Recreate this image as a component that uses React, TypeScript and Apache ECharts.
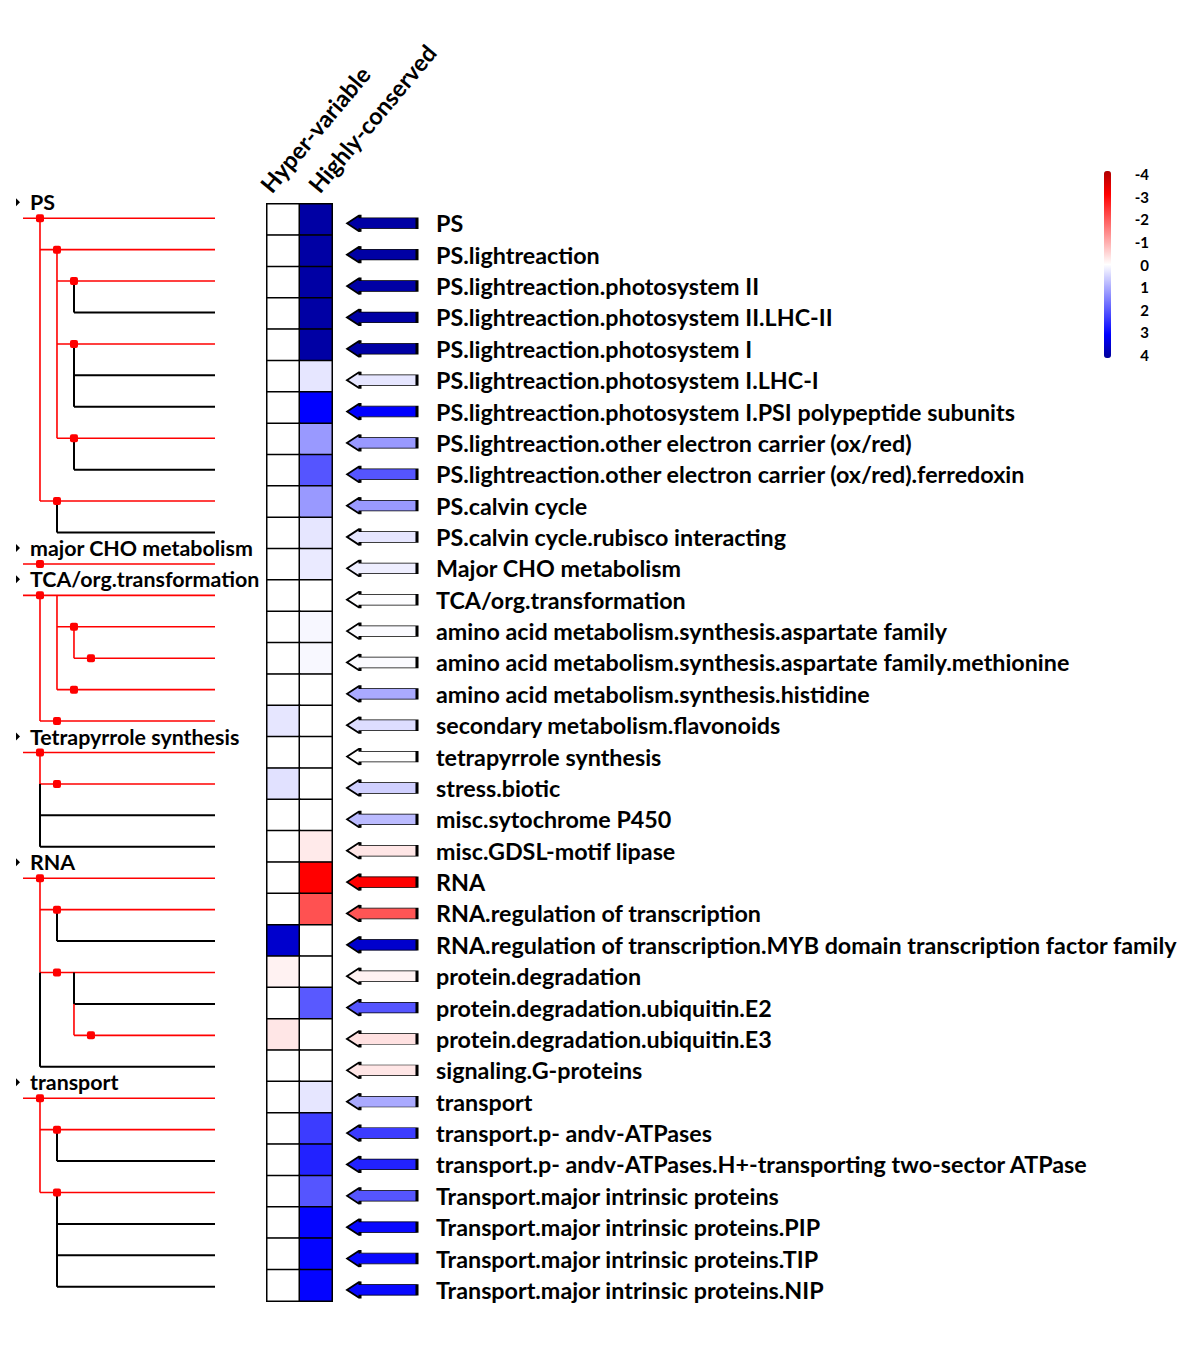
import React, { useEffect, useRef } from "react";
import * as echarts from "echarts";

const rowLabels = [
  "PS",
  "PS.lightreaction",
  "PS.lightreaction.photosystem II",
  "PS.lightreaction.photosystem II.LHC-II",
  "PS.lightreaction.photosystem I",
  "PS.lightreaction.photosystem I.LHC-I",
  "PS.lightreaction.photosystem I.PSI polypeptide subunits",
  "PS.lightreaction.other electron carrier (ox/red)",
  "PS.lightreaction.other electron carrier (ox/red).ferredoxin",
  "PS.calvin cycle",
  "PS.calvin cycle.rubisco interacting",
  "Major CHO metabolism",
  "TCA/org.transformation",
  "amino acid metabolism.synthesis.aspartate family",
  "amino acid metabolism.synthesis.aspartate family.methionine",
  "amino acid metabolism.synthesis.histidine",
  "secondary metabolism.flavonoids",
  "tetrapyrrole synthesis",
  "stress.biotic",
  "misc.sytochrome P450",
  "misc.GDSL-motif lipase",
  "RNA",
  "RNA.regulation of transcription",
  "RNA.regulation of transcription.MYB domain transcription factor family",
  "protein.degradation",
  "protein.degradation.ubiquitin.E2",
  "protein.degradation.ubiquitin.E3",
  "signaling.G-proteins",
  "transport",
  "transport.p- andv-ATPases",
  "transport.p- andv-ATPases.H+-transporting two-sector ATPase",
  "Transport.major intrinsic proteins",
  "Transport.major intrinsic proteins.PIP",
  "Transport.major intrinsic proteins.TIP",
  "Transport.major intrinsic proteins.NIP",
];

const columns = ["Hyper-variable", "Highly-conserved"];

const hyperVariable = [
  0, 0, 0, 0, 0, 0, 0, 0, 0, 0, 0, 0, 0, 0, 0, 0, 0.3, 0, 0.35, 0, 0, 0, 0, 3.5,
  -0.15, 0, -0.3, 0, 0, 0, 0, 0, 0, 0, 0,
];

const highlyConserved = [
  3.9, 3.9, 3.9, 3.9, 3.9, 0.3, 3.0, 1.2, 2.0, 1.2, 0.3, 0.25, 0, 0.1, 0.08, 0, 0, 0,
  0, 0, -0.25, -3.0, -2.05, 0, 0, 1.95, 0, 0, 0.3, 2.3, 2.6, 2.0, 2.95, 2.95, 2.95,
];

const arrowValues = [
  3.9, 3.9, 3.9, 3.9, 3.9, 0.3, 3.0, 1.2, 2.0, 1.2, 0.3, 0.2, 0.02, 0.05, 0.05, 1.0,
  0.4, 0, 0.55, 0.8, -0.3, -3.0, -2.0, 3.5, -0.15, 2.0, -0.35, -0.3, 1.0, 2.3, 2.6,
  2.0, 2.9, 2.9, 2.9,
];

const legendColors = [
  "#b00000", "#ff0000", "#ff5555", "#ffaaaa", "#ffffff", "#aaaaff", "#5555ff", "#0000ff", "#00009a",
];

// tree horizontal branches: [fromDepth, row, isRed, dotDepth(-9 = none)]
const treeBranches = [
  [-1, 0, 1, 0], [0, 1, 1, 1], [1, 2, 1, 2], [2, 3, 0, -9], [1, 4, 1, 2], [2, 5, 0, -9],
  [2, 6, 0, -9], [1, 7, 1, 2], [2, 8, 0, -9], [0, 9, 1, 1], [1, 10, 0, -9],
  [-1, 11, 1, 0], [-1, 12, 1, 0], [1, 13, 1, 2], [2, 14, 1, 3], [1, 15, 1, 2],
  [0, 16, 1, 1], [-1, 17, 1, 0], [0, 18, 1, 1], [0, 19, 0, -9], [0, 20, 0, -9],
  [-1, 21, 1, 0], [0, 22, 1, 1], [1, 23, 0, -9], [0, 24, 1, 1], [2, 25, 0, -9],
  [2, 26, 1, 3], [0, 27, 0, -9], [-1, 28, 1, 0], [0, 29, 1, 1], [1, 30, 0, -9],
  [0, 31, 1, 1], [1, 32, 0, -9], [1, 33, 0, -9], [1, 34, 0, -9],
];

// tree vertical connectors: [depth, fromRow, toRow, isRed]
const treeConnectors = [
  [0, 0, 9, 1], [1, 1, 7, 1], [2, 2, 3, 0], [2, 4, 6, 0], [2, 7, 8, 0], [1, 9, 10, 0],
  [0, 12, 16, 1], [1, 12, 15, 1], [2, 13, 14, 1],
  [0, 17, 18, 1], [0, 18, 20, 0],
  [0, 21, 24, 1], [0, 24, 27, 0], [1, 22, 23, 0], [2, 24, 25, 0], [2, 25, 26, 1],
  [0, 28, 31, 1], [1, 29, 30, 0], [1, 31, 34, 0],
];

const groupRows = [0, 11, 12, 17, 21, 28];
const groupNames = [
  "PS",
  "major CHO metabolism",
  "TCA/org.transformation",
  "Tetrapyrrole synthesis",
  "RNA",
  "transport",
];

const TREE_END = 10.3;
const FONT = "Lato";
const RED = "#ff0000";

export default function App() {
  const ref = useRef<HTMLDivElement>(null);

  useEffect(() => {
    if (!ref.current) return;
    const chart = echarts.init(ref.current, undefined, { renderer: "svg" });

    const heatData: number[][] = [];
    rowLabels.forEach((_, i) => {
      heatData.push([0, i, hyperVariable[i]]);
      heatData.push([1, i, highlyConserved[i]]);
    });
    const arrowData = arrowValues.map((v, i) => [0, i, v]);

    const option: any = {
      animation: false,
      backgroundColor: "#ffffff",
      textStyle: { fontFamily: FONT },
      grid: [
        { left: 267, top: 204, width: 65, height: 1097 },
        { left: 347, top: 207.6, width: 70, height: 1098 },
        { left: 23, top: 202.5, width: 192, height: 1100 },
        { left: 1104, top: 174, width: 7, height: 181 },
        { left: 241, top: 200, width: 96, height: 1 },
      ],
      xAxis: [
        { gridIndex: 0, type: "category", data: columns, show: false },
        { gridIndex: 1, type: "value", min: -1, max: 1, show: false },
        { gridIndex: 2, type: "value", min: -1, max: TREE_END, show: false },
        { gridIndex: 3, type: "value", show: false },
        {
          gridIndex: 4,
          type: "category",
          data: columns,
          position: "top",
          axisLine: { show: false },
          axisTick: { show: false },
          axisLabel: {
            rotate: 50,
            margin: 11,
            interval: 0,
            fontSize: 23.5,
            fontWeight: "bold",
            fontFamily: FONT,
            color: "#000",
          },
        },
      ],
      yAxis: [
        { gridIndex: 0, type: "category", data: rowLabels, inverse: true, show: false },
        {
          gridIndex: 1,
          type: "category",
          data: rowLabels,
          inverse: true,
          position: "right",
          axisLine: { show: false },
          axisTick: { show: false },
          splitLine: { show: false },
          axisLabel: {
            interval: 0,
            margin: 19,
            fontSize: 23.3,
            fontWeight: "bold",
            fontFamily: FONT,
            color: "#000",
          },
        },
        { gridIndex: 2, type: "category", data: rowLabels, inverse: true, show: false },
        {
          gridIndex: 3,
          type: "value",
          min: -4,
          max: 4,
          interval: 1,
          inverse: true,
          position: "right",
          axisLine: { show: false },
          splitLine: { show: false },
          axisTick: { show: true, length: 3, lineStyle: { color: "#444", width: 1 } },
          axisLabel: {
            margin: 38,
            align: "right",
            fontSize: 15,
            fontWeight: "bold",
            fontFamily: FONT,
            color: "#000",
          },
        },
        { gridIndex: 4, type: "value", show: false },
      ],
      visualMap: {
        type: "continuous",
        min: -4,
        max: 4,
        seriesIndex: [0, 1],
        dimension: 2,
        inverse: true,
        calculable: false,
        left: 1104,
        top: 171,
        padding: 0,
        itemWidth: 7,
        itemHeight: 187,
        inRange: { color: legendColors },
      },
      series: [
        {
          type: "heatmap",
          xAxisIndex: 0,
          yAxisIndex: 0,
          data: heatData,
          itemStyle: { borderColor: "#000", borderWidth: 1.5 },
          emphasis: { disabled: true },
        },
        {
          type: "scatter",
          xAxisIndex: 1,
          yAxisIndex: 1,
          data: arrowData,
          symbol: "path://M0,8L13,0L13,3L70,3L70,13L13,13L13,16Z",
          symbolSize: [70, 17],
          itemStyle: { borderColor: "#000", borderWidth: 1.5, opacity: 1 },
          emphasis: { disabled: true },
        },
        {
          type: "custom",
          xAxisIndex: 2,
          yAxisIndex: 2,
          clip: false,
          data: treeBranches,
          encode: { x: 0, y: 1 },
          renderItem: (params: any, api: any) => {
            const from = api.value(0);
            const row = api.value(1);
            const red = api.value(2) === 1;
            const dot = api.value(3);
            const p0 = api.coord([from, row]);
            const p1 = api.coord([TREE_END, row]);
            const children: any[] = [
              {
                type: "line",
                shape: { x1: p0[0], y1: p0[1], x2: p1[0], y2: p1[1] },
                style: { stroke: red ? RED : "#000", lineWidth: red ? 1.6 : 2 },
              },
            ];
            if (dot > -5) {
              const pd = api.coord([dot, row]);
              children.push({
                type: "rect",
                shape: { x: pd[0] - 4, y: pd[1] - 4, width: 8, height: 8, r: 2 },
                style: { fill: RED },
                z2: 10,
              });
            }
            return { type: "group", children };
          },
        },
        {
          type: "custom",
          xAxisIndex: 2,
          yAxisIndex: 2,
          clip: false,
          data: treeConnectors,
          encode: { x: 0, y: [1, 2] },
          renderItem: (params: any, api: any) => {
            const d = api.value(0);
            const a = api.coord([d, api.value(1)]);
            const b = api.coord([d, api.value(2)]);
            const red = api.value(3) === 1;
            return {
              type: "line",
              shape: { x1: a[0], y1: a[1], x2: b[0], y2: b[1] },
              style: { stroke: red ? RED : "#000", lineWidth: red ? 1.6 : 2 },
            };
          },
        },
        {
          type: "custom",
          xAxisIndex: 2,
          yAxisIndex: 2,
          clip: false,
          data: groupRows.map((r) => [-1, r]),
          encode: { x: 0, y: 1 },
          renderItem: (params: any, api: any) => {
            const p = api.coord([-1, api.value(1)]);
            const y = p[1] - 16;
            return {
              type: "group",
              children: [
                {
                  type: "polygon",
                  shape: { points: [[p[0] - 7, y - 4], [p[0] - 7, y + 4], [p[0] - 3, y]] },
                  style: { fill: "#000" },
                },
                {
                  type: "text",
                  x: p[0] + 7,
                  y: y,
                  style: {
                    text: groupNames[params.dataIndex],
                    fontSize: 21.4,
                    fontWeight: "bold",
                    fontFamily: FONT,
                    fill: "#000",
                    align: "left",
                    verticalAlign: "middle",
                  },
                },
              ],
            };
          },
        },
      ],
    };

    chart.setOption(option);
    return () => chart.dispose();
  }, []);

  return (
    <div
      ref={ref}
      style={{ position: "absolute", left: 0, top: 0, width: 1200, height: 1350, background: "#fff" }}
    />
  );
}
